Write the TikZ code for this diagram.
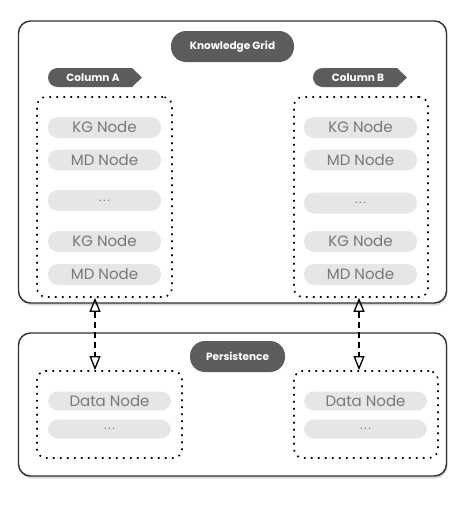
\documentclass[tikz,border=0pt]{standalone}
\usepackage{fontspec}
\setmainfont{Poppins}
\usetikzlibrary{arrows.meta,shadows}

\definecolor{pillgray}{HTML}{5C5C5C}
\definecolor{cellgray}{HTML}{E6E6E6}
\definecolor{celltext}{HTML}{777777}
\definecolor{framegray}{HTML}{303030}

\newcommand{\celldots}{\fontsize{12}{12}\selectfont .\hspace{1.5pt}.\hspace{1.5pt}.}

\begin{document}
\begin{tikzpicture}[x=1pt,y=-1pt,
    frame/.style={draw=framegray, line width=1.4pt, rounded corners=12pt, fill=white,
        drop shadow={shadow xshift=1pt, shadow yshift=-2.5pt, opacity=0.3}},
    pill/.style={fill=pillgray, text=white, rounded corners=15pt, inner sep=0pt,
        minimum height=31pt, font=\bfseries\fontsize{10.5}{11}\selectfont},
    tagtext/.style={text=white, inner sep=0pt, font=\bfseries\fontsize{10.5}{11}\selectfont},
    group/.style={draw=black, line width=1.7pt, dash pattern=on 1.7pt off 5.3pt,
        rounded corners=9pt, inner sep=0pt},
    cell/.style={fill=cellgray, text=celltext, rounded corners=10pt, inner sep=0pt,
        minimum width=113pt, minimum height=21pt, font=\fontsize{15}{16}\selectfont},
    link/.style={draw=black, line width=1.3pt, dash pattern=on 6pt off 4pt,
        {Triangle[open, length=14pt, width=11pt]}-{Triangle[open, length=14pt, width=11pt]}}]

    \useasboundingbox (0,0) rectangle (474,506);

    % outer frames
    \node[frame, minimum width=428pt, minimum height=282pt] (grid) at (232.5,162) {};
    \node[frame, minimum width=428pt, minimum height=143pt] (store) at (232.5,404.5) {};

    % titles
    \node[pill, minimum width=123pt] (gridlabel) at (232.5,46.5) {Knowledge Grid};
    \node[pill, minimum width=95pt] (storelabel) at (237.5,356.5) {Persistence};

    % column tags: round left end, pointed right end
    \foreach \dx in {0,265}{
        \fill[pillgray, xshift=\dx] (57.5,68) -- (132,68) -- (142,77.5) -- (132,87) -- (57.5,87)
            arc[start angle=90, end angle=270, radius=9.5] -- cycle;
    }
    \node[tagtext] (tagA) at (93,77.5) {Column A};
    \node[tagtext] (tagB) at (358,77.5) {Column B};

    % column groups
    \node[group, minimum width=135pt, minimum height=200pt] (colA) at (104.5,197) {};
    \node[group, minimum width=134pt, minimum height=200pt] (colB) at (361,197) {};

    % cells of column A
    \node[cell] (kgA1) at (104.5,127.5) {KG Node};
    \node[cell] (mdA1) at (104.5,160) {MD Node};
    \node[cell] (dotsA) at (104.5,200.5) {\celldots};
    \node[cell] (kgA2) at (104.5,241.5) {KG Node};
    \node[cell] (mdA2) at (104.5,274.5) {MD Node};

    % cells of column B
    \node[cell] (kgB1) at (360.5,127.5) {KG Node};
    \node[cell] (mdB1) at (360.5,160) {MD Node};
    \node[cell] (dotsB) at (360.5,203) {\celldots};
    \node[cell] (kgB2) at (360.5,241.5) {KG Node};
    \node[cell] (mdB2) at (360.5,274.5) {MD Node};

    % persistence groups
    \node[group, minimum width=145pt, minimum height=87pt] (persA) at (109.5,414.5) {};
    \node[group, minimum width=144pt, minimum height=87pt] (persB) at (366,414.5) {};

    \node[cell, minimum width=123pt, minimum height=19pt] (dataA) at (109.5,401) {Data Node};
    \node[cell, minimum width=123pt, minimum height=19pt] (moreA) at (109.5,429) {\celldots};
    \node[cell, minimum width=123pt, minimum height=19pt] (dataB) at (365.5,401) {Data Node};
    \node[cell, minimum width=123pt, minimum height=19pt] (moreB) at (365.5,429) {\celldots};

    % links
    \draw[link] (95,0 |- colA.south) -- (95,0 |- persA.north);
    \draw[link] (359,0 |- colB.south) -- (359,0 |- persB.north);

\end{tikzpicture}
\end{document}
